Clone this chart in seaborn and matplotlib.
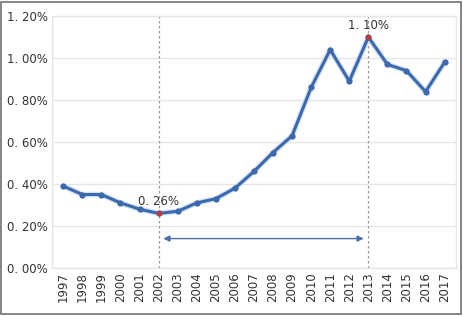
import matplotlib
matplotlib.use("Agg")
import matplotlib.pyplot as plt
import seaborn as sns
import pandas as pd
from matplotlib.patches import Rectangle, FancyArrowPatch
from matplotlib.ticker import FuncFormatter

years = [str(y) for y in range(1997, 2018)]
values = [0.39, 0.35, 0.35, 0.31, 0.28, 0.26, 0.27, 0.31, 0.33, 0.38, 0.46,
          0.55, 0.63, 0.86, 1.04, 0.89, 1.10, 0.97, 0.94, 0.84, 0.98]
highlight_years = ["2002", "2013"]
highlight_labels = ["0. 26%", "1. 10%"]
yticks = [0.0, 0.2, 0.4, 0.6, 0.8, 1.0, 1.2]

df = pd.DataFrame({"year": years, "value": values})
df["x"] = range(len(years))

sns.set_style("white")
fig = plt.figure(figsize=(4.63, 3.16), dpi=100)
ax = fig.add_axes([0.112, 0.152, 0.873, 0.797])

# faint glow under line
sns.lineplot(data=df, x="x", y="value", ax=ax, color="#d3e2f4", linewidth=4, zorder=2)
sns.lineplot(data=df, x="x", y="value", ax=ax, color="#3c68ad", linewidth=2.2,
             marker="o", markersize=4.5, markeredgewidth=0, zorder=3)

hi = df[df["year"].isin(highlight_years)]
ax.scatter(hi["x"], hi["value"], color="#c0393b", s=16, zorder=4, linewidths=0)

ax.set_ylim(0, 1.2)
ax.set_xlim(-0.6, len(years) - 0.4)
for xv in hi["x"]:
    ax.axvline(xv, color="#9a9a9a", linestyle=(0, (2, 2)), linewidth=0.9, zorder=1)

for (_, row), lab in zip(hi.iterrows(), highlight_labels):
    ax.text(row["x"], row["value"] + 0.025, lab, ha="center", va="bottom",
            fontsize=8.5, color="#333333")

x0, x1 = hi["x"].iloc[0], hi["x"].iloc[1]
arr = FancyArrowPatch((x0 + 0.1, 0.14), (x1 - 0.1, 0.14), arrowstyle="<|-|>",
                      mutation_scale=9, color="#4a6fa8", linewidth=1.0, zorder=3)
ax.add_patch(arr)

ax.set_yticks(yticks)
ax.yaxis.set_major_formatter(FuncFormatter(lambda v, p: f"{v:.2f}%".replace(".", ". ")))
ax.set_xticks(df["x"])
ax.set_xticklabels(years, rotation=90)
ax.tick_params(axis="both", labelsize=8.5, colors="#333333", length=0, pad=3)
ax.grid(axis="y", color="#e6e6e6", linewidth=1)
for s in ax.spines.values():
    s.set_color("#e6e6e6")
    s.set_linewidth(1)
ax.set_xlabel("")
ax.set_ylabel("")

fig.patches.append(Rectangle((0.003, 0.006), 0.992, 0.988, transform=fig.transFigure,
                             fill=False, edgecolor="#707070", linewidth=1.2))
fig.savefig("out.png", dpi=100)
